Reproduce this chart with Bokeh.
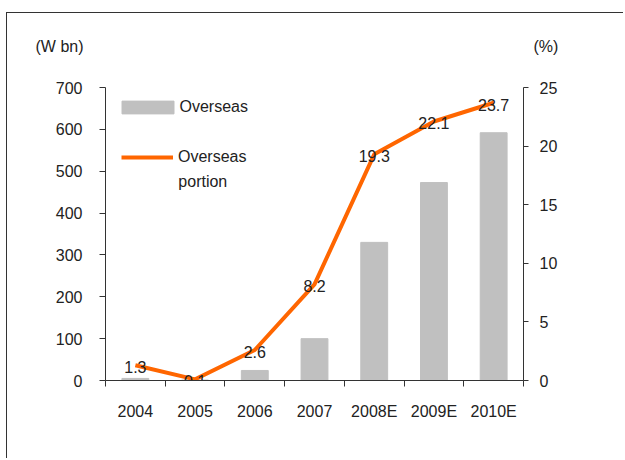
from bokeh.plotting import figure
from bokeh.models import (Range1d, LinearAxis, FixedTicker, Legend, LegendItem, Label)
from bokeh.core.properties import value
from bokeh.embed import file_html
from bokeh.resources import INLINE

# ---- data ----
years = ["2004", "2005", "2006", "2007", "2008E", "2009E", "2010E"]
overseas = [5, 1, 24, 100, 330, 473, 592]          # W bn
portion = [1.3, 0.1, 2.6, 8.2, 19.3, 22.1, 23.7]   # %
portion_labels = ["1.3", "0.1", "2.6", "8.2", "19.3", "22.1", "23.7"]
left_ticks = [0, 100, 200, 300, 400, 500, 600, 700]
right_ticks = [0, 5, 10, 15, 20, 25]
unit_left = "(W bn)"
unit_right = "(%)"

FONT = "Liberation Sans"
FS = "16px"
TC = "#222222"
AX = "#333333"

LMAX, RMAX = 700, 25
FRAME_H, AXIS_H = 343, 293          # frame taller than the axes, to hold the unit captions
YMAX = FRAME_H * LMAX / AXIS_H
HDR_L = 798                          # caption height in left-axis units
HDR_R = HDR_L * RMAX / LMAX

xc = [i + 0.5 for i in range(len(years))]

p = figure(width=617, height=446, x_range=Range1d(0, len(years)), y_range=Range1d(0, YMAX),
           output_backend="svg", toolbar_location=None,
           min_border_left=98, min_border_right=101, min_border_top=24, min_border_bottom=79)
p.margin = (12, 0, 0, 6)
p.styles = {"border-top": "1px solid #333333", "border-left": "1px solid #333333"}
p.outline_line_color = None
p.xgrid.visible = False
p.ygrid.visible = False
p.background_fill_color = "white"

p.extra_y_ranges = {"pct": Range1d(0, YMAX * RMAX / LMAX)}

bars = p.vbar(x=xc, top=overseas, width=0.45, color="#C0C0C0")
line = p.line(x=xc, y=portion, y_range_name="pct", line_color="#FF6600", line_width=4)
p.text(x=xc, y=portion, text=portion_labels, y_range_name="pct", y_offset=2,
       text_align="center", text_baseline="middle", text_font=value(FONT),
       text_font_size=FS, text_color=TC)

# left axis
ya = p.yaxis[0]
ya.ticker = FixedTicker(ticks=left_ticks)
ya.bounds = (0, LMAX)
ya.major_tick_in = 0
ya.major_tick_out = 6
ya.major_label_standoff = 17

# right axis
ra = LinearAxis(y_range_name="pct", ticker=FixedTicker(ticks=right_ticks))
ra.bounds = (0, RMAX)
ra.major_tick_in = 0
ra.major_tick_out = 5
ra.major_label_standoff = 11
p.add_layout(ra, "right")

# x axis
xa = p.xaxis[0]
xa.ticker = FixedTicker(ticks=xc, minor_ticks=list(range(len(years) + 1)))
xa.major_label_overrides = {c: y for c, y in zip(xc, years)}
xa.major_tick_in = 0
xa.major_tick_out = 0
xa.minor_tick_in = 0
xa.minor_tick_out = 6
xa.major_label_standoff = 16

for ax in [ya, ra, xa]:
    ax.axis_line_color = AX
    ax.major_tick_line_color = AX if ax is not xa else None
    ax.minor_tick_line_color = AX if ax is xa else None
    ax.major_label_text_font = FONT
    ax.major_label_text_font_size = FS
    ax.major_label_text_color = TC

# unit captions as outer axes carrying a single labelled tick
hl = LinearAxis(ticker=FixedTicker(ticks=[HDR_L]), major_label_overrides={HDR_L: unit_left},
                major_label_standoff=-31)
hr = LinearAxis(y_range_name="pct", ticker=FixedTicker(ticks=[HDR_R]),
                major_label_overrides={HDR_R: unit_right}, major_label_standoff=-27)
for ax in [hl, hr]:
    ax.axis_line_color = None
    ax.major_tick_line_color = None
    ax.minor_tick_line_color = None
    ax.major_tick_in = 0
    ax.major_tick_out = 0
    ax.minor_tick_in = 0
    ax.minor_tick_out = 0
    ax.major_label_text_font = FONT
    ax.major_label_text_font_size = FS
    ax.major_label_text_color = TC
p.add_layout(hl, "left")
p.add_layout(hr, "right")

leg_common = dict(padding=0, margin=0, border_line_color=None, background_fill_alpha=0,
                  label_text_font=FONT, label_text_font_size=FS, label_text_color=TC)
leg1 = Legend(items=[LegendItem(label="Overseas", renderers=[bars])],
              location=(9.5, 262), glyph_width=65, glyph_height=16, label_height=23,
              label_standoff=-1, **leg_common)
leg2 = Legend(items=[LegendItem(label="Overseas", renderers=[line])],
              location=(16, 212), glyph_width=52, glyph_height=20, label_height=22,
              label_standoff=5, **leg_common)
p.add_layout(leg1)
p.add_layout(leg2)

p.add_layout(Label(x=1.22, y=475, text="portion", text_baseline="middle",
                   text_font=FONT, text_font_size=FS, text_color=TC))

open("out.html", "w").write(file_html(p, INLINE))
